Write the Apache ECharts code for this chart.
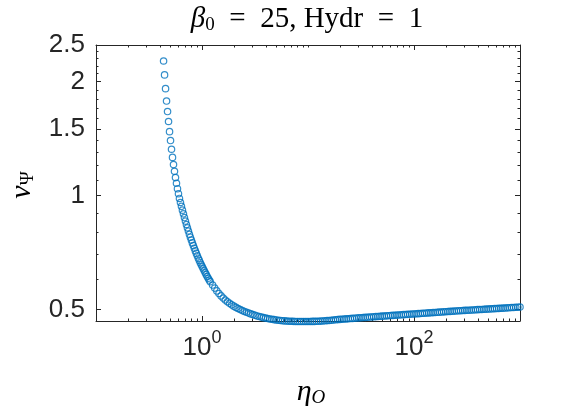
<!DOCTYPE html>
<html>
<head>
<meta charset="utf-8">
<script src="https://cdn.jsdelivr.net/npm/echarts@6.0.0/dist/echarts.min.js"></script>
<style>
  html, body { margin: 0; padding: 0; background: #fff; }
  #chart { width: 576px; height: 412px; }
</style>
</head>
<body>
<div id="chart"></div>
<script>
// eta_O, steep branch (every sample)
const etaSteep = [
  0.434, 0.4435, 0.4531, 0.463, 0.4731, 0.4834, 0.494, 0.5047, 0.5157, 0.527,
  0.5385, 0.5502, 0.5622, 0.5745, 0.587, 0.5998, 0.6129,
  0.6263, 0.6399, 0.6539, 0.6681, 0.6827, 0.6976, 0.7128, 0.7283, 0.7442, 0.7604,
  0.777, 0.7939, 0.8112, 0.8289, 0.847, 0.8655, 0.8844, 0.9036, 0.9233, 0.9434,
  0.964, 0.985, 1.0065, 1.0284, 1.0508, 1.0737, 1.0971, 1.121, 1.1454, 1.1704, 1.1959
];
const vSteep = [
  2.268, 2.084, 1.917, 1.778, 1.668, 1.570, 1.476, 1.398, 1.326, 1.262,
  1.208, 1.160, 1.116, 1.078, 1.043, 1.012, 0.983,
  0.959, 0.9369, 0.9155, 0.8952, 0.8753, 0.8566, 0.8389, 0.8222, 0.8064, 0.7908,
  0.7766, 0.7630, 0.7501, 0.7379, 0.7259, 0.7145, 0.7038, 0.6936, 0.6836, 0.6745,
  0.6651, 0.6567, 0.6484, 0.6406, 0.6328, 0.6256, 0.6184, 0.6113, 0.6050, 0.5984, 0.5927
];

// eta_O, flat branch
const etaFlat = [
  1.2589, 1.3183, 1.3804, 1.4454, 1.5136, 1.5849, 1.6596, 1.7378, 1.8197, 1.9055,
  1.9953, 2.0893, 2.1878, 2.2909, 2.3988, 2.5119, 2.6303, 2.7542, 2.884, 3.02,
  3.1623, 3.3113, 3.4674, 3.6308, 3.8019, 3.9811, 4.1687, 4.3652, 4.5709, 4.7863,
  5.0119, 5.2481, 5.4954, 5.7544, 6.0256, 6.3096, 6.6069, 6.9183, 7.2444, 7.5858,
  7.9433, 8.3176, 8.7096, 9.1201, 9.5499,
  10, 10.471, 10.965, 11.482, 12.023, 12.589, 13.183, 13.804, 14.454, 15.136,
  15.849, 16.596, 17.378, 18.197, 19.055, 19.953, 20.893, 21.878, 22.909, 23.988,
  25.119, 26.303, 27.542, 28.84, 30.2, 31.623, 33.113, 34.674, 36.308, 38.019,
  39.811, 41.687, 43.652, 45.709, 47.863, 50.119, 52.481, 54.954, 57.544, 60.256,
  63.096, 66.069, 69.183, 72.444, 75.858, 79.433, 83.176, 87.096, 91.201, 95.499,
  100, 104.71, 109.65, 114.82, 120.23, 125.89, 131.83, 138.04, 144.54, 151.36,
  158.49, 165.96, 173.78, 181.97, 190.55, 199.53, 208.93, 218.78, 229.09, 239.88,
  251.19, 263.03, 275.42, 288.4, 302, 316.23, 331.13, 346.74, 363.08, 380.19,
  398.11, 416.87, 436.52, 457.09, 478.63, 501.19, 524.81, 549.54, 575.44, 602.56,
  630.96, 660.69, 691.83, 724.44, 758.58, 794.33, 831.76, 870.96, 912.01, 954.99,
  1000
];
const vFlat = [
  0.5806, 0.5699, 0.5602, 0.5514, 0.5435, 0.5364, 0.5301, 0.5244, 0.5193, 0.5147,
  0.5106, 0.5068, 0.5033, 0.5001, 0.4971, 0.4944, 0.4918, 0.4894, 0.4871, 0.4850,
  0.4830, 0.4811, 0.4793, 0.4777, 0.4761, 0.4748, 0.4735, 0.4723, 0.4713, 0.4703,
  0.4695, 0.4687, 0.4680, 0.4674, 0.4668, 0.4664, 0.4660, 0.4657, 0.4655, 0.4652,
  0.4652, 0.4651, 0.4651, 0.4651, 0.4651, 0.4651, 0.4652, 0.4653, 0.4654, 0.4656,
  0.4657, 0.4662, 0.4667, 0.4671, 0.4676, 0.4681, 0.4687, 0.4693, 0.4699, 0.4705,
  0.4711, 0.4716, 0.4721, 0.4725, 0.4730, 0.4735, 0.4740, 0.4745, 0.4750, 0.4755,
  0.4759, 0.4764, 0.4768, 0.4773, 0.4778, 0.4782, 0.4787, 0.4792, 0.4796, 0.4801,
  0.4805, 0.4809, 0.4814, 0.4818, 0.4822, 0.4827, 0.4831, 0.4835, 0.4840, 0.4844,
  0.4848, 0.4853, 0.4857, 0.4861, 0.4866, 0.4870, 0.4875, 0.4879, 0.4883, 0.4888,
  0.4892, 0.4897, 0.4901, 0.4905, 0.4910, 0.4914, 0.4919, 0.4923, 0.4928, 0.4932,
  0.4936, 0.4941, 0.4945, 0.4950, 0.4954, 0.4959, 0.4963, 0.4967, 0.4971, 0.4975,
  0.4979, 0.4982, 0.4986, 0.4990, 0.4994, 0.4998, 0.5002, 0.5005, 0.5009, 0.5013,
  0.5017, 0.5021, 0.5025, 0.5029, 0.5032, 0.5036, 0.5041, 0.5045, 0.5049, 0.5053,
  0.5058, 0.5062, 0.5066, 0.5070, 0.5074, 0.5078
];

// axis ticks
const xMajorTicks = [1, 100];
const xMinorTicks = [
  0.2, 0.3, 0.4, 0.5, 0.6, 0.7, 0.8, 0.9,
  2, 3, 4, 5, 6, 7, 8, 9, 10,
  20, 30, 40, 50, 60, 70, 80, 90,
  200, 300, 400, 500, 600, 700, 800, 900
];
const yMajorTicks = [0.5, 1, 1.5, 2, 2.5];
const yMinorTicks = [0.6, 0.7, 0.8, 0.9, 1.1, 1.2, 1.3, 1.4, 1.6, 1.7, 1.8, 1.9, 2.1, 2.2, 2.3, 2.4];

const xMin = 0.1, xMax = 1000;
const yMin = 0.4665, yMax = 2.5;

const axisColor = '#262626';
const markerColor = '#0072BD';

const points = etaSteep.map((x, i) => [x, vSteep[i]])
  .concat(etaFlat.map((x, i) => [x, vFlat[i]]));

function xAxisDef (position, ticks, len, main) {
  return {
    type: 'log', logBase: 10, min: xMin, max: xMax, position: position,
    axisLine: { show: main, onZero: false, lineStyle: { color: axisColor, width: 1 } },
    axisTick: { show: true, inside: true, length: len, customValues: ticks,
      lineStyle: { color: axisColor, width: 1 } },
    axisLabel: {
      show: main && position === 'bottom',
      customValues: xMajorTicks,
      margin: 14,
      color: axisColor,
      fontFamily: 'Liberation Sans',
      formatter: function (v) {
        return '{b|10}{e|' + Math.round(Math.log10(v)) + '}';
      },
      rich: {
        b: { fontSize: 26, fontFamily: 'Liberation Sans', color: axisColor, lineHeight: 26 },
        e: { fontSize: 18, fontFamily: 'Liberation Sans', color: axisColor, lineHeight: 16,
          padding: [0, 0, 20, 0] }
      }
    },
    splitLine: { show: false },
    minorTick: { show: false }
  };
}

function yAxisDef (position, ticks, len, main) {
  return {
    type: 'log', logBase: 10, min: yMin, max: yMax, position: position,
    axisLine: { show: main, onZero: false, lineStyle: { color: axisColor, width: 1 } },
    axisTick: { show: true, inside: true, length: len, customValues: ticks,
      lineStyle: { color: axisColor, width: 1 } },
    axisLabel: {
      show: main && position === 'left',
      customValues: yMajorTicks,
      margin: 11,
      color: axisColor,
      fontSize: 26,
      fontFamily: 'Liberation Sans',
      formatter: function (v) { return String(v); }
    },
    splitLine: { show: false },
    minorTick: { show: false }
  };
}

const chart = echarts.init(document.getElementById('chart'));
chart.setOption({
  animation: false,
  backgroundColor: '#fff',
  grid: { left: 96, right: 56, top: 45, bottom: 91, containLabel: false },
  xAxis: [
    xAxisDef('bottom', xMajorTicks, 5, true),
    xAxisDef('bottom', xMinorTicks, 2.5, false),
    xAxisDef('top', xMajorTicks, 5, true),
    xAxisDef('top', xMinorTicks, 2.5, false)
  ],
  yAxis: [
    yAxisDef('left', yMajorTicks, 5, true),
    yAxisDef('left', yMinorTicks, 2.5, false),
    yAxisDef('right', yMajorTicks, 5, true),
    yAxisDef('right', yMinorTicks, 2.5, false)
  ],
  graphic: [
    {
      type: 'text', x: 307, y: 19, silent: true,
      style: {
        text: '{i|β}{s|0}{n|\u2002=\u200225, Hydr\u2002=\u20021}',
        align: 'center', verticalAlign: 'middle',
        rich: {
          i: { fontSize: 29, fontStyle: 'italic', fontFamily: 'Liberation Serif', fill: '#000' },
          s: { fontSize: 19, fontFamily: 'Liberation Serif', fill: '#000', padding: [12, 0, 0, 0] },
          n: { fontSize: 29, fontFamily: 'Liberation Serif', fill: '#000' }
        }
      }
    },
    {
      type: 'text', x: 311, y: 392, silent: true,
      style: {
        text: '{i|η}{s|O}',
        align: 'center', verticalAlign: 'middle',
        rich: {
          i: { fontSize: 30, fontStyle: 'italic', fontFamily: 'Liberation Serif', fill: '#000' },
          s: { fontSize: 19, fontStyle: 'italic', fontFamily: 'Liberation Serif', fill: '#000', padding: [12, 0, 0, 0] }
        }
      }
    },
    {
      type: 'text', x: 22, y: 185, rotation: Math.PI / 2, silent: true,
      style: {
        text: '{i|v}{s|Ψ}',
        align: 'center', verticalAlign: 'middle',
        rich: {
          i: { fontSize: 30, fontStyle: 'italic', fontFamily: 'Liberation Serif', fill: '#000' },
          s: { fontSize: 19, fontFamily: 'Liberation Serif', fill: '#000', padding: [12, 0, 0, 0] }
        }
      }
    }
  ],
  series: [{
    type: 'scatter',
    xAxisIndex: 0,
    yAxisIndex: 0,
    data: points,
    symbol: 'circle',
    symbolSize: 6.4,
    clip: false,
    silent: true,
    itemStyle: { color: 'rgba(0,0,0,0)', borderColor: markerColor, borderWidth: 1.2 },
    emphasis: { disabled: true }
  }]
});
</script>
</body>
</html>
